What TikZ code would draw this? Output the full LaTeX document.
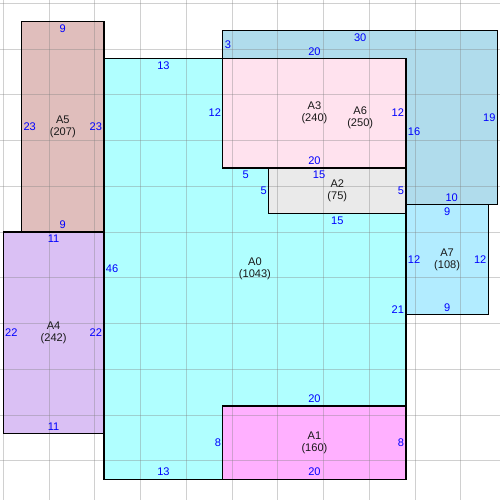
\documentclass[tikz,border=0pt]{standalone}
\usepackage{fontspec}
\setmainfont{Liberation Sans}
\definecolor{colA0}{RGB}{176,255,255}
\definecolor{colA1}{RGB}{255,176,255}
\definecolor{colA2}{RGB}{234,234,234}
\definecolor{colA3}{RGB}{255,226,238}
\definecolor{colA4}{RGB}{218,192,244}
\definecolor{colA5}{RGB}{224,190,188}
\definecolor{colA6}{RGB}{176,220,236}
\definecolor{colA7}{RGB}{178,236,255}
\tikzstyle{room} = [draw=black, line width=0.9pt]
\tikzstyle{gridline} = [draw=black!50, opacity=0.37, line width=0.7pt]
\tikzstyle{arealabel} = [align=center, text=black!90, font=\fontsize{8.6}{9.4}\selectfont, inner sep=0pt]
\tikzstyle{edgelabel} = [text=blue, font=\fontsize{8.6}{9.4}\selectfont, inner xsep=1.3pt, inner ysep=2.2pt]

\begin{document}
\begin{tikzpicture}[x=0.25cm, y=-0.25cm]
\useasboundingbox (-0.36,-0.36) rectangle (54.28,54.28);
\fill[white] (-0.36,-0.36) rectangle (54.28,54.28);
% Fill the areas
\fill[colA5] (2,2) rectangle (11,25);
\fill[colA4] (0,25) rectangle (11,47);
\fill[colA0] (11,6) -- (24,6) -- (24,18) -- (29,18) -- (29,23) -- (44,23) -- (44,44) -- (24,44) -- (24,52) -- (11,52) -- cycle;
\fill[colA6] (24,3) -- (54,3) -- (54,22) -- (44,22) -- (44,6) -- (24,6) -- cycle;
\fill[colA3] (24,6) rectangle (44,18);
\fill[colA2] (29,18) rectangle (44,23);
\fill[colA7] (44,22) rectangle (53,34);
\fill[colA1] (24,44) rectangle (44,52);
% Grid
\foreach \g in {0,5,...,50} {
  \draw[gridline] (\g,-0.36) -- (\g,54.28);
  \draw[gridline] (-0.36,\g) -- (54.28,\g);
}
% Outlines
\draw[room] (2,2) rectangle (11,25);
\draw[room] (0,25) rectangle (11,47);
\draw[room] (11,6) -- (24,6) -- (24,18) -- (29,18) -- (29,23) -- (44,23) -- (44,44) -- (24,44) -- (24,52) -- (11,52) -- cycle;
\draw[room] (24,3) -- (54,3) -- (54,22) -- (44,22) -- (44,6) -- (24,6) -- cycle;
\draw[room] (24,6) rectangle (44,18);
\draw[room] (29,18) rectangle (44,23);
\draw[room] (44,22) rectangle (53,34);
\draw[room] (24,44) rectangle (44,52);
% Area names
\node (areaA0) [arealabel] at (27.5,29) {A0\\(1043)};
\node (areaA1) [arealabel] at (34,48) {A1\\(160)};
\node (areaA2) [arealabel] at (36.5,20.5) {A2\\(75)};
\node (areaA3) [arealabel] at (34,12) {A3\\(240)};
\node (areaA4) [arealabel] at (5.5,36) {A4\\(242)};
\node (areaA5) [arealabel] at (6.5,13.5) {A5\\(207)};
\node (areaA6) [arealabel] at (39,12.5) {A6\\(250)};
\node (areaA7) [arealabel] at (48.5,28) {A7\\(108)};
% Side lengths
\node (sideA5top) [edgelabel, anchor=north] at (6.5,2) {9};
\node (sideA5left) [edgelabel, anchor=west] at (2,13.5) {23};
\node (sideA5right) [edgelabel, anchor=east] at (11,13.5) {23};
\node (sideA5bottom) [edgelabel, anchor=south] at (6.5,25) {9};
\node (sideA4top) [edgelabel, anchor=north] at (5.5,25) {11};
\node (sideA4left) [edgelabel, anchor=west] at (0,36) {22};
\node (sideA4right) [edgelabel, anchor=east] at (11,36) {22};
\node (sideA4bottom) [edgelabel, anchor=south] at (5.5,47) {11};
\node (sideA0top) [edgelabel, anchor=north] at (17.5,6) {13};
\node (sideA0left) [edgelabel, anchor=west] at (11,29) {46};
\node (sideA0bottom) [edgelabel, anchor=south] at (17.5,52) {13};
\node (sideA0a) [edgelabel, anchor=east] at (24,12) {12};
\node (sideA0b) [edgelabel, anchor=north] at (26.5,18) {5};
\node (sideA0c) [edgelabel, anchor=east] at (29,20.5) {5};
\node (sideA0d) [edgelabel, anchor=north] at (36.5,23) {15};
\node (sideA0e) [edgelabel, anchor=east] at (44,33.5) {21};
\node (sideA0f) [edgelabel, anchor=south] at (34,44) {20};
\node (sideA0g) [edgelabel, anchor=east] at (24,48) {8};
\node (sideA3right) [edgelabel, anchor=east] at (44,12) {12};
\node (sideA3bottom) [edgelabel, anchor=south] at (34,18) {20};
\node (sideA6top) [edgelabel, anchor=north] at (39,3) {30};
\node (sideA6right) [edgelabel, anchor=east] at (54,12.5) {19};
\node (sideA6bottom) [edgelabel, anchor=south] at (49,22) {10};
\node (sideA6inner) [edgelabel, anchor=west] at (44,14) {16};
\node (sideA6step) [edgelabel, anchor=south] at (34,6) {20};
\node (sideA6left) [edgelabel, anchor=west] at (24,4.5) {3};
\node (sideA2top) [edgelabel, anchor=north] at (34.5,18) {15};
\node (sideA2right) [edgelabel, anchor=east] at (44,20.5) {5};
\node (sideA7top) [edgelabel, anchor=north] at (48.5,22) {9};
\node (sideA7left) [edgelabel, anchor=west] at (44,28) {12};
\node (sideA7right) [edgelabel, anchor=east] at (53,28) {12};
\node (sideA7bottom) [edgelabel, anchor=south] at (48.5,34) {9};
\node (sideA1right) [edgelabel, anchor=east] at (44,48) {8};
\node (sideA1bottom) [edgelabel, anchor=south] at (34,52) {20};
\end{tikzpicture}
\end{document}
